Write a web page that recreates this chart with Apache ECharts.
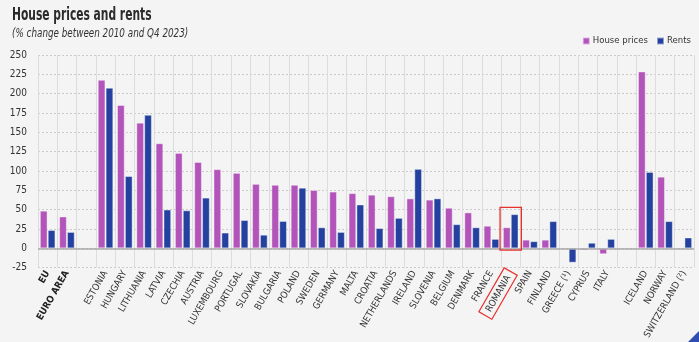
<!DOCTYPE html>
<html>
<head>
<meta charset="utf-8">
<style>
  html, body { margin: 0; padding: 0; background: #f4f4f4; }
  #chart { width: 699px; height: 342px; }
</style>
<script src="https://cdn.jsdelivr.net/npm/echarts@6/dist/echarts.min.js"></script>
</head>
<body>
<div id="chart"></div>
<script>
// Countries (blank entries separate the aggregate, EU member and EFTA groups)
const categories = [
  'EU', 'EURO AREA', ' ',
  'ESTONIA', 'HUNGARY', 'LITHUANIA', 'LATVIA', 'CZECHIA', 'AUSTRIA', 'LUXEMBOURG',
  'PORTUGAL', 'SLOVAKIA', 'BULGARIA', 'POLAND', 'SWEDEN', 'GERMANY', 'MALTA',
  'CROATIA', 'NETHERLANDS', 'IRELAND', 'SLOVENIA', 'BELGIUM', 'DENMARK', 'FRANCE',
  'ROMANIA', 'SPAIN', 'FINLAND', 'GREECE (¹)', 'CYPRUS', 'ITALY', '  ',
  'ICELAND', 'NORWAY', 'SWITZERLAND (²)'
];

// % change between 2010 and Q4 2023
const housePrices = [
  48.5, 41, null,
  217.7, 185.3, 162.3, 135.7, 123.2, 111.5, 102.2,
  97.4, 83.2, 82, 82, 75.3, 73.2, 71.2,
  69.2, 67.2, 64.4, 62.8, 52.3, 46.3, 29,
  27, 11, 11, null, -2.5, -7.6, null,
  228.6, 92.5, null
];

const rents = [
  23.5, 21, null,
  207.6, 93.3, 172.5, 50, 49, 65.4, 20.2,
  36.4, 17.4, 35.2, 78.2, 27, 21, 56.5,
  26, 39.2, 102.6, 64.4, 31, 27, 12,
  44, 9, 35, -18.5, 7, 12, null,
  98.6, 35, 13.8
];

const yTicks = { min: -25, max: 250, interval: 25 };

const titleText = 'House prices and rents';
const subtitleText = '(% change between 2010 and Q4 2023)';

const boldLabels = ['EU', 'EURO AREA'];
const highlighted = 'ROMANIA';
const highlightRange = [-2.5, 53];

const FONT = "'DejaVu Sans Condensed', 'Roboto', sans-serif";
const PURPLE = '#b354bb';
const BLUE = '#2541a0';

const chart = echarts.init(document.getElementById('chart'), null, { renderer: 'canvas' });

const option = {
  backgroundColor: '#f4f4f4',
  animation: false,
  textStyle: { fontFamily: FONT },
  legend: {
    right: 3,
    top: 31,
    itemWidth: 7,
    itemHeight: 7,
    itemGap: 8,
    icon: 'rect',
    textStyle: { fontFamily: FONT, fontSize: 9.5, color: '#333', padding: [0, 0, 0, -2] },
    data: ['House prices', 'Rents']
  },
  grid: { left: 38, right: 5, top: 55, bottom: 60 },
  xAxis: {
    type: 'category',
    data: categories,
    axisLine: { show: false },
    axisTick: { show: false },
    splitLine: { show: true, interval: 0, lineStyle: { color: '#dcdcdc', width: 1 } },
    axisLabel: {
      interval: 0,
      rotate: 60,
      margin: 4,
      fontSize: 9.5,
      color: '#333',
      fontFamily: FONT,
      formatter: function (v) {
        if (v === highlighted) return '{hl|' + v + '}';
        if (boldLabels.indexOf(v) >= 0) return '{b|' + v + '}';
        return v;
      },
      rich: {
        b: { fontWeight: 'bold', fontSize: 9.5, fontFamily: FONT, color: '#222' },
        hl: {
          fontSize: 9.5, fontFamily: FONT, color: '#333',
          borderColor: '#e8302c', borderWidth: 1.2,
          padding: [3, 5, 2, 5]
        }
      }
    }
  },
  yAxis: {
    type: 'value',
    min: yTicks.min,
    max: yTicks.max,
    interval: yTicks.interval,
    axisLine: { show: false },
    axisTick: { show: false },
    axisLabel: { fontSize: 10, color: '#333', margin: 11, fontFamily: FONT },
    splitLine: { lineStyle: { color: '#cbcbcb', type: [2, 2], width: 1 } }
  },
  series: [
    {
      name: 'House prices',
      type: 'bar',
      data: housePrices,
      barWidth: 7.5,
      barGap: '5%',
      itemStyle: { color: PURPLE, borderColor: 'rgba(255,255,255,0.5)', borderWidth: 0.8 },
      markLine: {
        silent: true,
        symbol: 'none',
        label: { show: false },
        lineStyle: { color: '#a8a8a8', width: 1.5, type: 'solid' },
        data: [{ yAxis: 0 }]
      }
    },
    {
      name: 'Rents',
      type: 'bar',
      data: rents,
      barWidth: 7.5,
      itemStyle: { color: BLUE, borderColor: 'rgba(255,255,255,0.5)', borderWidth: 0.8 }
    }
  ]
};

chart.setOption(option);

// Red frame round the highlighted country's bars, placed from the axis scales
const idx = categories.indexOf(highlighted);
const c0 = chart.convertToPixel({ gridIndex: 0 }, [idx, highlightRange[1]]);
const c1 = chart.convertToPixel({ gridIndex: 0 }, [idx, highlightRange[0]]);
const band = chart.convertToPixel({ gridIndex: 0 }, [idx + 1, 0])[0] - c0[0];
const w = band + 2;

chart.setOption({
  graphic: [
    {
      type: 'text',
      silent: true,
      x: 12, y: 7,
      scaleX: 0.7,
      style: {
        text: titleText,
        font: "bold 17px 'DejaVu Sans Condensed', sans-serif",
        fill: '#2b2b2b'
      }
    },
    {
      type: 'text',
      silent: true,
      x: 12, y: 28,
      scaleX: 0.85,
      style: {
        text: subtitleText,
        font: "italic 11.5px 'DejaVu Sans Condensed', sans-serif",
        fill: '#333'
      }
    },
    {
      type: 'rect',
      silent: true,
      z: 100,
      shape: { x: c0[0] - w / 2, y: c0[1], width: w, height: c1[1] - c0[1] },
      style: { fill: 'none', stroke: '#e8302c', lineWidth: 1.3 }
    },
    {
      type: 'polygon',
      silent: true,
      shape: { points: [[699, 331], [699, 342], [688, 342]] },
      style: { fill: '#2e4fb0' }
    }
  ]
});
</script>
</body>
</html>
